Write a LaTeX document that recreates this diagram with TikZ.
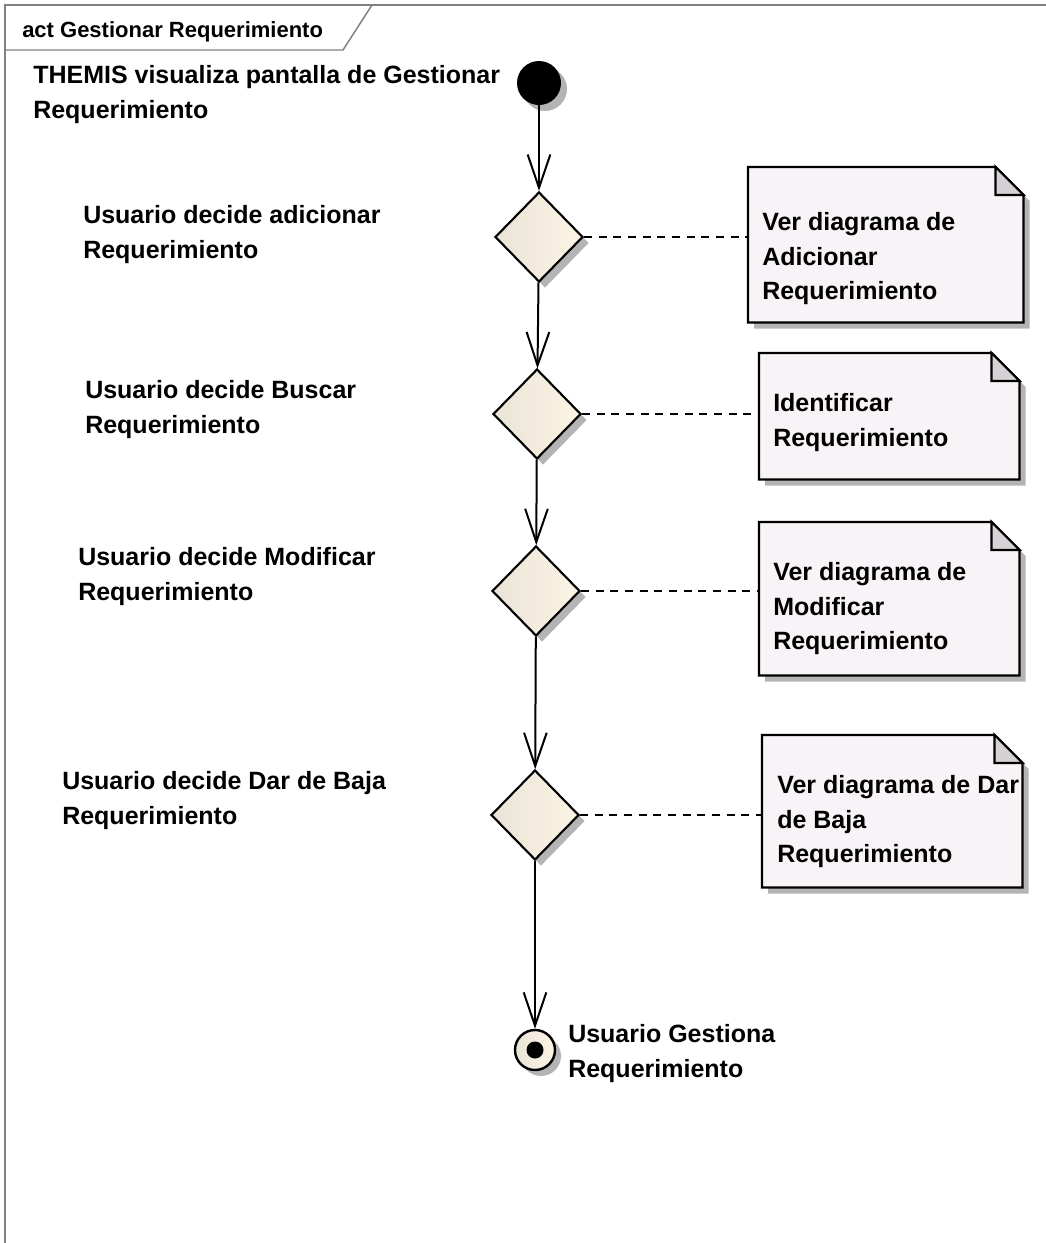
\documentclass[tikz,border=0pt]{standalone}
\usepackage{fontspec}
\setmainfont{Liberation Sans}
\usetikzlibrary{arrows.meta,shapes.geometric,shadows,calc}
\definecolor{cFrame}{RGB}{128,128,128}
\definecolor{cNote}{RGB}{247,243,247}
\definecolor{cFold}{RGB}{213,209,213}
\definecolor{cDecL}{RGB}{234,228,216}
\definecolor{cDecR}{RGB}{252,244,228}
\definecolor{cShadow}{RGB}{180,180,180}
\newcommand{\lblfont}{\bfseries\fontsize{18.75}{26}\selectfont}
\tikzset{
  shd/.style={drop shadow={shadow xshift=4.5pt,shadow yshift=-4.5pt,fill=cShadow,opacity=1}},
  lbl/.style={anchor=north west,align=left,inner sep=0pt,font=\lblfont},
  dec/.style={diamond,draw,line width=1.6pt,inner sep=0pt,minimum width=66pt,minimum height=67.5pt,left color=cDecL,right color=cDecR,shd},
  flow/.style={line width=1.5pt,-{Straight Barb[length=25pt,width=17pt,line width=1.5pt]}},
  link/.style={line width=1.2pt,dash pattern=on 6pt off 5pt},
  notearea/.style={anchor=north west,inner sep=0pt},
  notepath/.style={draw,line width=1.6pt,fill=cNote,shd},
}
\begin{document}
\begin{tikzpicture}[x=0.75pt,y=-0.75pt]
\useasboundingbox (0,0) rectangle (1046,1243);
% frame
\draw[cFrame,line width=1.1pt] (5,1243) -- (5,5) -- (1046,5);
\draw[cFrame,line width=1.1pt] (5,50) -- (343,50) -- (372,5);
\node[anchor=north west,inner sep=0pt,font=\bfseries\fontsize{16.5}{20}\selectfont] (title) at (22,21) {act Gestionar Requerimiento};
% start, decisions, end
\node[circle,fill=black,inner sep=0pt,minimum size=33pt,shd] (init) at (539,83) {};
\node[dec] (d1) at (539,237) {};
\node[dec] (d2) at (537,414) {};
\node[dec] (d3) at (536,591) {};
\node[dec] (d4) at (535,815) {};
\node[circle,draw,line width=1.8pt,inner sep=0pt,minimum size=30pt,left color=cDecL,right color=cDecR,shd] (fin) at (535,1050) {};
\node[circle,fill=black,inner sep=0pt,minimum size=12.75pt] (finc) at (fin) {};
\draw[flow] (init) -- (d1);
\draw[flow] (d1) -- (d2);
\draw[flow] (d2) -- (d3);
\draw[flow] (d3) -- (d4);
\draw[flow] (d4) -- (fin);
% labels
\node[lbl] (l0) at (33,65) {THEMIS visualiza pantalla de Gestionar\\Requerimiento};
\node[lbl] (l1) at (83,205) {Usuario decide adicionar\\Requerimiento};
\node[lbl] (l2) at (85,380) {Usuario decide Buscar\\Requerimiento};
\node[lbl] (l3) at (78,547) {Usuario decide Modificar\\Requerimiento};
\node[lbl] (l4) at (62,771) {Usuario decide Dar de Baja\\Requerimiento};
\node[lbl] (l5) at (568,1024) {Usuario Gestiona\\Requerimiento};
% notes
\node[notearea,minimum width=206.25pt,minimum height=116.25pt] (n1) at (748,167) {};
\node[notearea,minimum width=195pt,minimum height=94.5pt] (n2) at (759,353) {};
\node[notearea,minimum width=195pt,minimum height=114.75pt] (n3) at (759,522) {};
\node[notearea,minimum width=195pt,minimum height=114pt] (n4) at (762,735) {};
\foreach \n in {n1,n2,n3,n4}{
  \draw[notepath] (\n.south west) -- (\n.north west) -- ($(\n.north east)+(-28,0)$) -- ($(\n.north east)+(0,28)$) -- (\n.south east) -- cycle;
  \draw[line width=1.6pt,fill=cFold] ($(\n.north east)+(-28,0)$) -- ($(\n.north east)+(-28,28)$) -- ($(\n.north east)+(0,28)$) -- cycle;
}
\node[lbl] (t1) at (762,212) {Ver diagrama de\\Adicionar\\Requerimiento};
\node[lbl] (t2) at (773,393) {Identificar\\Requerimiento};
\node[lbl] (t3) at (773,562) {Ver diagrama de\\Modificar\\Requerimiento};
\node[lbl] (t4) at (777,775) {Ver diagrama de Dar\\de Baja\\Requerimiento};
\draw[link] (d1.east) -- (d1.east -| n1.west);
\draw[link] (d2.east) -- (d2.east -| n2.west);
\draw[link] (d3.east) -- (d3.east -| n3.west);
\draw[link] (d4.east) -- (d4.east -| n4.west);
\end{tikzpicture}
\end{document}
